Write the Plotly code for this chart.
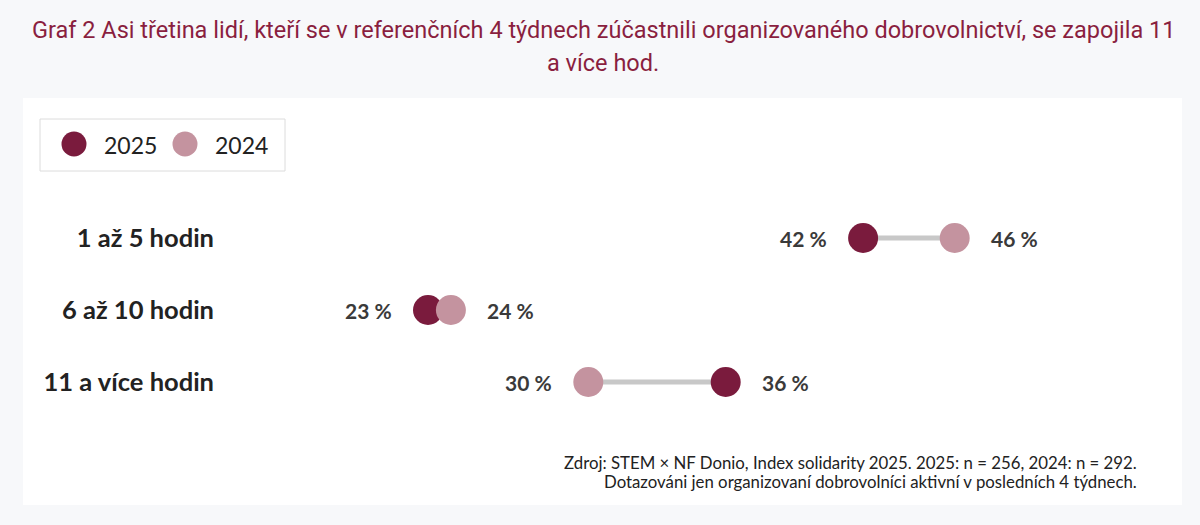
import plotly.graph_objects as go

categories = ["1 až 5 hodin", "6 až 10 hodin", "11 a více hodin"]
values_2025 = [42, 23, 36]
values_2024 = [46, 24, 30]
series_names = ["2025", "2024"]
title_lines = [
    "Graf 2 Asi třetina lidí, kteří se v referenčních 4 týdnech zúčastnili organizovaného dobrovolnictví, se zapojila 11",
    "a více hod.",
]
source_lines = [
    "Zdroj: STEM × NF Donio, Index solidarity 2025. 2025: n = 256, 2024: n = 292.",
    "Dotazováni jen organizovaní dobrovolníci aktivní v posledních 4 týdnech.",
]

C25 = "#7a1b3d"
C24 = "#c4939f"
LINE = "#c8c8c8"
TITLE_C = "#8a1f3f"
BG = "#f7f8fa"
FONT = "Lato"

W, H = 1200, 525
L, R, T, B = 230, 50, 202, 107
PW, PH = W - L - R, H - T - B

def px(x):
    return (x - L) / PW

def py(y):
    return (H - B - y) / PH

fig = go.Figure()

for cat, a, b in zip(categories, values_2025, values_2024):
    fig.add_trace(go.Scatter(x=[a, b], y=[cat, cat], mode="lines",
                             line=dict(color=LINE, width=5),
                             showlegend=False, hoverinfo="skip"))

fig.add_trace(go.Scatter(x=values_2025, y=categories, mode="markers", name=series_names[0],
                         marker=dict(color=C25, size=30, line=dict(width=0)), showlegend=False))
fig.add_trace(go.Scatter(x=values_2024, y=categories, mode="markers", name=series_names[1],
                         marker=dict(color=C24, size=30, line=dict(width=0)), showlegend=False))

annotations = []
vfont = dict(family=FONT, size=21, color="#3a3a3a", weight="bold")
for cat, a, b in zip(categories, values_2025, values_2024):
    lo, hi = min(a, b), max(a, b)
    annotations.append(dict(x=lo, y=cat, xref="x", yref="y", text=f"{lo} %", showarrow=False,
                            xanchor="right", xshift=-34, font=vfont))
    annotations.append(dict(x=hi, y=cat, xref="x", yref="y", text=f"{hi} %", showarrow=False,
                            xanchor="left", xshift=34, font=vfont))

# title
for text, yy in zip(title_lines, [30, 63]):
    annotations.append(dict(x=px(603), y=py(yy), xref="paper", yref="paper", text=text,
                            showarrow=False, xanchor="center", yanchor="middle",
                            font=dict(family="Roboto", size=23.5, color=TITLE_C)))

# source
for text, yy in zip(source_lines, [462, 481]):
    annotations.append(dict(x=px(1139), y=py(yy), xref="paper", yref="paper", text=text,
                            showarrow=False, xanchor="right", yanchor="middle",
                            font=dict(family=FONT, size=16.8, color="#222222")))

# legend (manual)
leg_items = [(74, 102, series_names[0], C25), (185, 213, series_names[1], C24)]
shapes = [
    dict(type="rect", xref="paper", yref="paper", x0=px(23), x1=px(1182), y0=py(505), y1=py(98),
         fillcolor="white", line=dict(width=0), layer="below"),
    dict(type="rect", xref="paper", yref="paper", x0=px(40), x1=px(285), y0=py(171), y1=py(119),
         fillcolor="white", line=dict(color="#dcdcdc", width=1), layer="below"),
]
for cx, tx, name, col in leg_items:
    r = 12.5
    shapes.append(dict(type="circle", xref="paper", yref="paper", x0=px(cx - r), x1=px(cx + r),
                       y0=py(144 + r), y1=py(144 - r), fillcolor=col, line=dict(width=0)))
    annotations.append(dict(x=px(tx), y=py(145), xref="paper", yref="paper", text=name,
                            showarrow=False, xanchor="left", yanchor="middle",
                            font=dict(family=FONT, size=23, color="#222222")))

x0 = 23 - (428 - L) / 22.9
x1 = 23 + (W - R - 428) / 22.9

fig.update_layout(
    width=W, height=H,
    margin=dict(l=L, r=R, t=T, b=B, pad=0),
    paper_bgcolor=BG, plot_bgcolor="rgba(0,0,0,0)",
    showlegend=False,
    shapes=shapes, annotations=annotations,
    xaxis=dict(range=[x0, x1], visible=False, fixedrange=True),
    yaxis=dict(type="category", categoryorder="array", categoryarray=categories,
               range=[2.5, -0.5], showgrid=False, zeroline=False, showline=False, ticks="",
               ticklabelstandoff=15,
               tickfont=dict(family=FONT, size=25.5, color="#222222", weight="bold"),
               fixedrange=True),
    hovermode=False,
)

fig.write_html("out.html", config={"displayModeBar": False},
               post_script="document.body.style.margin='0';document.body.style.background='#f7f8fa';")
